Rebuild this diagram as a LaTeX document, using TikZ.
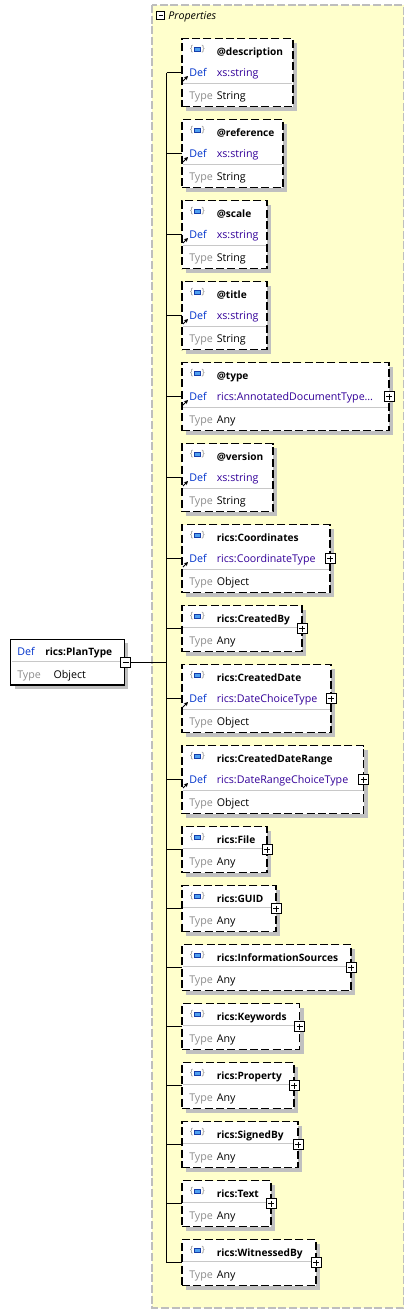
\documentclass[tikz,border=0pt]{standalone}
\usepackage{fontspec}
\setmainfont{Open Sans}
\usetikzlibrary{shadows,arrows.meta}
\definecolor{panelfill}{RGB}{255,255,204}
\definecolor{panelline}{RGB}{190,190,190}
\definecolor{defblue}{RGB}{0,51,204}
\definecolor{valblue}{RGB}{51,0,153}
\definecolor{labelgray}{RGB}{140,140,140}
\definecolor{rowline}{RGB}{200,200,200}
\definecolor{shadowgray}{RGB}{192,192,192}
\definecolor{iconblue}{RGB}{80,160,240}
\definecolor{icondark}{RGB}{20,60,170}
\begin{document}
\begin{tikzpicture}[x=0.75pt,y=-0.75pt,
  font=\fontsize{8pt}{9.6pt}\selectfont,
  box/.style={draw,line width=1.1pt,fill=white,inner sep=0pt,outer sep=0pt,anchor=north west,
    drop shadow={shadow xshift=3pt,shadow yshift=-3pt,fill=shadowgray,opacity=1}},
  optbox/.style={box,dash pattern=on 6pt off 2.5pt},
  txt/.style={inner sep=0pt,anchor=base west},
  bold/.style={txt,font=\fontsize{7.6pt}{9pt}\selectfont\bfseries},
  wire/.style={line width=1pt},
  sep/.style={rowline,line width=0.75pt},
  plusbox/.style={draw,fill=white,line width=0.75pt,minimum size=7.5pt,inner sep=0pt,
    path picture={\draw[line width=0.75pt]
      ([yshift=-1.5pt]path picture bounding box.north) -- ([yshift=1.5pt]path picture bounding box.south)
      ([xshift=1.5pt]path picture bounding box.west) -- ([xshift=-1.5pt]path picture bounding box.east);}},
  minusbox/.style={draw,fill=white,line width=0.75pt,minimum size=7.5pt,inner sep=0pt,
    path picture={\draw[line width=0.75pt]
      ([xshift=1.5pt]path picture bounding box.west) -- ([xshift=-1.5pt]path picture bounding box.east);}}
]
\useasboundingbox (0,0) rectangle (414,1314);

% properties panel
\draw[panelline,fill=panelfill,line width=0.9pt,dash pattern=on 6pt off 2pt] (152,5) rectangle (403.5,1308);
\node[minusbox,minimum size=6pt] (propminus) at (160.5,15) {};
\node[txt,font=\fontsize{8pt}{9.6pt}\selectfont\itshape] (proptitle) at (168,19) {Properties};

% root type
\node[box,minimum width=85.2pt,minimum height=34.3pt] (plan) at (10.7,639.3) {};
\draw[sep] ([shift={(1,22.4)}]plan.north west) -- ([shift={(-1,22.4)}]plan.north east);
\node[txt,defblue] at ([shift={(6.3,16.4)}]plan.north west) {Def};
\node[bold] at ([shift={(34.3,16.4)}]plan.north west) {rics:PlanType};
\node[txt,labelgray] at ([shift={(6.3,38.7)}]plan.north west) {Type};
\node[txt] at ([shift={(42.6,38.7)}]plan.north west) {Object};
\node[minusbox] (planminus) at (125.5,662.5) {};
\coordinate (spine) at (166.5,662.5);

% attributes and elements with a type
\foreach \n/\t/\r/\lab/\dv/\tv in {
  desc/38.5/293/@description/xs:string/String,
  ref/119.5/283/@reference/xs:string/String,
  scale/200.5/267/@scale/xs:string/String,
  title/281.5/267/@title/xs:string/String,
  type/362.5/389/@type/rics:AnnotatedDocumentType\ldots/Any,
  version/443.5/273/@version/xs:string/String,
  coord/524.5/330/rics:Coordinates/rics:CoordinateType/Object,
  cdate/664.5/331/rics:CreatedDate/rics:DateChoiceType/Object,
  cdrange/745.5/363.5/rics:CreatedDateRange/rics:DateRangeChoiceType/Object}
{
  \node[optbox,minimum width={(\r-182)*0.75pt},minimum height=51pt] (\n) at (182,\t) {};
  \draw[wire] (spine |- \n.west) -- (\n.west);
  \draw[sep] ([shift={(1,44.5)}]\n.north west) -- ([shift={(-1,44.5)}]\n.north east);
  \node[txt,labelgray,font=\fontsize{6.5pt}{7pt}\selectfont] at ([shift={(7.5,13)}]\n.north west) {\{\hspace{6.4pt}\}};
  \draw[fill=iconblue,draw=icondark,line width=0.6pt] ([shift={(12.5,8.5)}]\n.north west) rectangle ++(6,4.5);
  \node[bold] at ([shift={(34.5,16.5)}]\n.north west) {\lab};
  \node[txt,defblue] at ([shift={(7,37.5)}]\n.north west) {Def};
  \node[txt,valblue] at ([shift={(34.5,37.5)}]\n.north west) {\dv};
  \node[txt,labelgray] at ([shift={(7,60.5)}]\n.north west) {Type};
  \node[txt] at ([shift={(34.5,60.5)}]\n.north west) {\tv};
  \draw[-{Stealth[length=3pt,width=3pt]},line width=0.7pt] ([shift={(1,42.5)}]\n.north west) -- ++(5,-5);
}
\foreach \n in {type,coord,cdate,cdrange}
  \node[plusbox] (\n plus) at (\n.east) {};

% elements of any type
\foreach \n/\t/\r/\lab in {
  cby/605.5/302/rics:CreatedBy,
  file/826.5/267/rics:File,
  guid/885.5/276/rics:GUID,
  info/944.5/351/rics:InformationSources,
  keyw/1003.5/299.5/rics:Keywords,
  prop/1062.5/294/rics:Property,
  signed/1121.5/298/rics:SignedBy,
  text/1180.5/271/rics:Text,
  witness/1239.5/316/rics:WitnessedBy}
{
  \node[optbox,minimum width={(\r-182)*0.75pt},minimum height=34.5pt] (\n) at (182,\t) {};
  \draw[wire] (spine |- \n.west) -- (\n.west);
  \draw[sep] ([shift={(1,22)}]\n.north west) -- ([shift={(-1,22)}]\n.north east);
  \node[txt,labelgray,font=\fontsize{6.5pt}{7pt}\selectfont] at ([shift={(7.5,13)}]\n.north west) {\{\hspace{6.4pt}\}};
  \draw[fill=iconblue,draw=icondark,line width=0.6pt] ([shift={(12.5,8.5)}]\n.north west) rectangle ++(6,4.5);
  \node[bold] at ([shift={(34.5,16.5)}]\n.north west) {\lab};
  \node[txt,labelgray] at ([shift={(7,38.5)}]\n.north west) {Type};
  \node[txt] at ([shift={(34.5,38.5)}]\n.north west) {Any};
  \node[plusbox] (\n plus) at (\n.east) {};
}

% tree lines
\draw[wire] (spine |- desc.west) -- (spine |- witness.west);
\draw[wire] (planminus) -- (spine);
\end{tikzpicture}
\end{document}
